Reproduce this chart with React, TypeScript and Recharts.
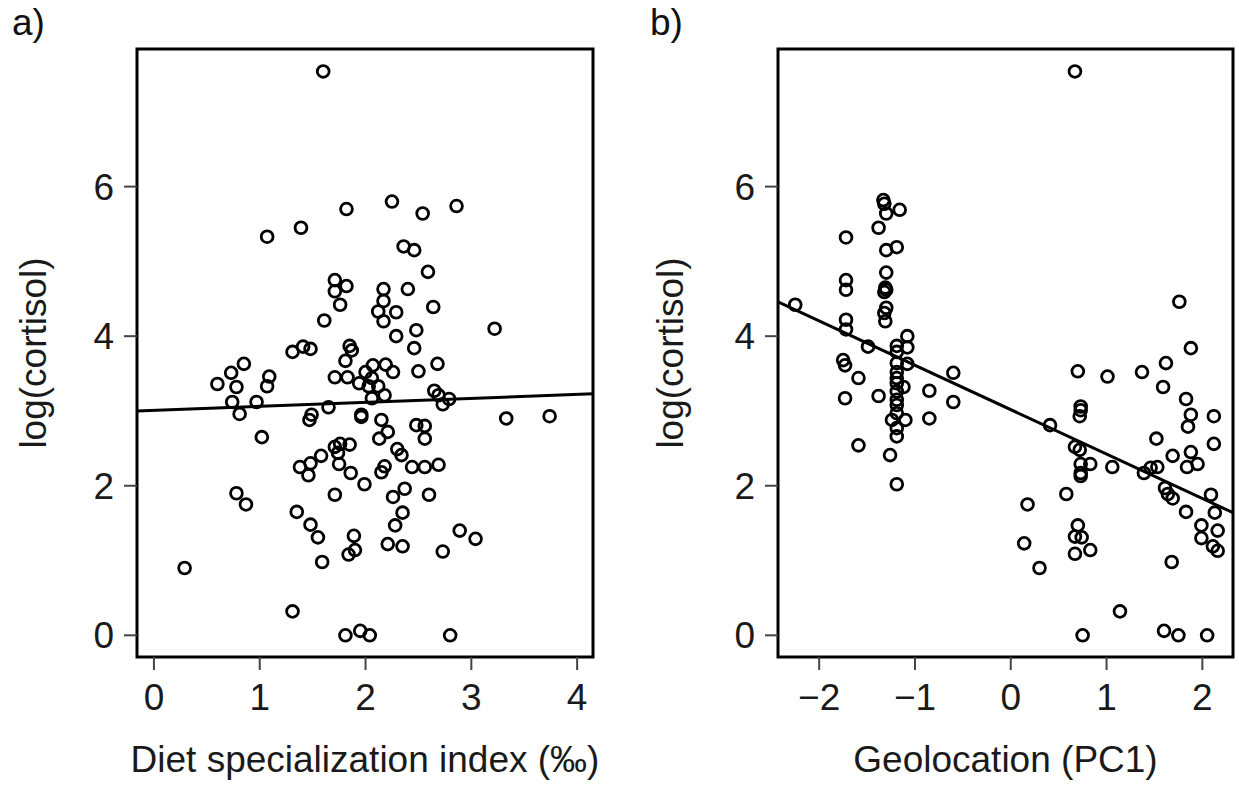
import { ScatterChart, Scatter, XAxis, YAxis, ReferenceArea } from 'recharts'

const FONT = '"Liberation Sans", Arial, Helvetica, sans-serif'

// panel a) diet specialization index vs log(cortisol)
const dietIndex = [
  1.60, 1.07, 1.39, 1.82, 2.25, 2.54, 2.86, 2.36, 2.46, 2.59,
  1.71, 1.82, 1.71, 2.17, 2.40, 2.17, 1.76, 2.64, 2.12, 2.29,
  2.17, 1.61, 2.48, 2.29, 2.46, 1.31, 1.41, 1.48, 1.85, 1.87,
  1.81, 2.68, 2.07, 2.19, 2.26, 2.00, 2.06, 1.94, 2.03, 2.12,
  2.18, 2.06, 2.50, 1.71, 1.83, 1.09, 1.07, 0.97, 1.65, 2.65,
  2.69, 2.73, 2.79, 1.49, 1.47, 1.96, 1.96, 1.02, 2.15, 2.21,
  2.13, 2.48, 2.56, 2.56, 1.71, 1.76, 1.85, 1.74, 1.58, 1.38,
  1.48, 1.46, 1.75, 1.86, 1.99, 1.71, 2.30, 2.34, 2.18, 2.15,
  2.44, 2.56, 2.69, 2.37, 2.26, 2.60, 0.60, 0.73, 0.85, 0.78,
  0.74, 0.81, 0.78, 0.87, 0.29, 1.31, 1.35, 1.48, 1.55, 1.59,
  1.89, 1.90, 1.84, 1.81, 1.95, 2.04, 3.33, 3.74, 2.35, 2.28,
  2.89, 3.04, 2.21, 2.35, 2.73, 2.80, 3.22,
]
const dietCortisol = [
  7.54, 5.33, 5.45, 5.70, 5.80, 5.64, 5.74, 5.20, 5.15, 4.86,
  4.75, 4.67, 4.60, 4.63, 4.63, 4.47, 4.42, 4.39, 4.33, 4.32,
  4.20, 4.21, 4.08, 4.00, 3.84, 3.79, 3.86, 3.83, 3.87, 3.81,
  3.67, 3.63, 3.61, 3.62, 3.52, 3.52, 3.44, 3.37, 3.33, 3.33,
  3.21, 3.17, 3.53, 3.45, 3.45, 3.46, 3.33, 3.12, 3.05, 3.27,
  3.21, 3.09, 3.16, 2.95, 2.88, 2.95, 2.92, 2.65, 2.88, 2.72,
  2.63, 2.81, 2.80, 2.63, 2.52, 2.56, 2.55, 2.44, 2.40, 2.25,
  2.30, 2.14, 2.29, 2.17, 2.02, 1.88, 2.49, 2.41, 2.26, 2.18,
  2.25, 2.25, 2.28, 1.96, 1.85, 1.88, 3.36, 3.51, 3.63, 3.32,
  3.12, 2.96, 1.90, 1.75, 0.90, 0.32, 1.65, 1.48, 1.31, 0.98,
  1.33, 1.14, 1.08, 0.00, 0.06, 0.00, 2.90, 2.93, 1.64, 1.47,
  1.40, 1.29, 1.22, 1.19, 1.12, 0.00, 4.10,
]
const dietFit = [
  { x: -0.16, y: 3.0 },
  { x: 4.15, y: 3.23 },
]
const dietTicks = [0, 1, 2, 3, 4]
const dietDomain = [-0.16, 4.15]

// panel b) geolocation PC1 vs log(cortisol)
const geoPC1 = [
  -2.25, -1.33, -1.32, -1.30, -1.16, -1.38, -1.72, -1.30, -1.19, -1.30,
  -1.72, -1.72, -1.31, -1.32, -1.30, -1.32, -1.31, -1.72, -1.72, -1.49,
  -1.08, -1.19, -1.08, -1.19, -1.75, -1.73, -1.19, -1.08, -1.59, -1.19,
  -1.19, -1.19, -1.12, -1.19, -1.19, -1.19, -1.19, -1.24, -1.10, -1.19,
  -1.19, -0.60, -0.85, -0.60, -0.85, -1.73, -1.38, -1.59, -1.26, -1.19,
  -1.30,
  0.67, 1.76, 1.88, 0.70, 1.01, 1.37, 1.62, 1.59, 1.83,
  0.73, 0.73, 0.72, 1.88, 2.12, 1.85, 2.12, 0.41, 1.52, 0.67,
  0.72, 1.69, 1.88, 1.84, 1.95, 0.73, 0.83, 0.73, 0.73, 1.06,
  1.39, 1.46, 1.53, 1.61, 1.64, 1.69, 2.09, 2.13, 1.83, 0.58,
  0.175, 1.99, 2.16, 1.99, 2.11, 2.16, 0.70, 0.67, 0.74, 0.67,
  0.83, 0.14, 0.30, 1.68, 1.14, 0.75, 1.60, 1.75, 2.05,
]
const geoCortisol = [
  4.42, 5.82, 5.77, 5.64, 5.69, 5.45, 5.32, 5.15, 5.19, 4.85,
  4.75, 4.62, 4.65, 4.59, 4.38, 4.31, 4.20, 4.22, 4.09, 3.86,
  4.00, 3.87, 3.85, 3.79, 3.68, 3.61, 3.64, 3.63, 3.44, 3.52,
  3.44, 3.37, 3.32, 3.26, 3.15, 3.08, 2.97, 2.88, 2.88, 2.77,
  2.66, 3.51, 3.27, 3.12, 2.90, 3.17, 3.20, 2.54, 2.41, 2.02,
  4.62,
  7.54, 4.46, 3.84, 3.53, 3.46, 3.52, 3.64, 3.32, 3.16,
  3.06, 3.01, 2.93, 2.95, 2.93, 2.79, 2.56, 2.81, 2.63, 2.52,
  2.48, 2.40, 2.45, 2.25, 2.29, 2.29, 2.29, 2.17, 2.13, 2.25,
  2.17, 2.24, 2.25, 1.97, 1.89, 1.83, 1.88, 1.64, 1.65, 1.89,
  1.75, 1.47, 1.40, 1.30, 1.19, 1.13, 1.47, 1.32, 1.31, 1.09,
  1.14, 1.23, 0.90, 0.98, 0.32, 0.00, 0.06, 0.00, 0.00,
]
const geoFit = [
  { x: -2.43, y: 4.46 },
  { x: 2.32, y: 1.64 },
]
const geoTicks = [-2, -1, 0, 1, 2]
const geoDomain = [-2.43, 2.32]

const cortisolTicks = [0, 2, 4, 6]
const cortisolDomain = [-0.29, 7.84]

const dietPoints = dietIndex.map((x, i) => ({ x, y: dietCortisol[i] }))
const geoPoints = geoPC1.map((x, i) => ({ x, y: geoCortisol[i] }))

const OpenDot = (props: any) => (
  <circle cx={props.cx} cy={props.cy} r={5.9} fill="none" stroke="#000" strokeWidth={2.8} />
)
const NoDot = () => <g />

const fmt = (v: number) => String(v).replace('-', '\u2212')

const textStyle = { fontSize: 37, fill: '#1a1a1a', fontFamily: FONT }

const Panel = ({ points, fit, xDomain, xTicks, xTitle, width, left, right, yLabelOffset }: any) => (
  <ScatterChart
    width={width}
    height={786}
    margin={{ top: 49, right, bottom: 4, left }}
    style={{ fontFamily: FONT }}
  >
    <XAxis
      type="number"
      dataKey="x"
      domain={xDomain}
      ticks={xTicks}
      allowDataOverflow
      axisLine={false}
      tickLine={{ stroke: '#444', strokeWidth: 2 }}
      tickSize={13}
      tickMargin={14}
      tick={textStyle}
      tickFormatter={fmt}
      height={125}
      label={{ value: xTitle, position: 'insideBottom', offset: 10, ...textStyle }}
    />
    <YAxis
      type="number"
      dataKey="y"
      domain={cortisolDomain}
      ticks={cortisolTicks}
      allowDataOverflow
      axisLine={false}
      tickLine={{ stroke: '#444', strokeWidth: 2 }}
      tickSize={13}
      tickMargin={10}
      tick={textStyle}
      width={110}
      label={{
        value: 'log(cortisol)',
        angle: -90,
        position: 'insideLeft',
        offset: yLabelOffset,
        style: { textAnchor: 'middle' },
        ...textStyle,
      }}
    />
    <ReferenceArea
      x1={xDomain[0]}
      x2={xDomain[1]}
      y1={cortisolDomain[0]}
      y2={cortisolDomain[1]}
      fill="none"
      fillOpacity={0}
      stroke="#000"
      strokeWidth={3}
      ifOverflow="visible"
    />
    <Scatter data={points} shape={OpenDot} isAnimationActive={false} />
    <Scatter
      data={fit}
      shape={NoDot}
      line={{ stroke: '#000', strokeWidth: 3 }}
      isAnimationActive={false}
    />
  </ScatterChart>
)

const tag = { position: 'absolute' as const, top: 4, fontSize: 37, lineHeight: 1, fontFamily: FONT, color: '#111' }

export default function App() {
  return (
    <div style={{ position: 'absolute', left: 0, top: 0, width: 1239, height: 786, background: '#fff' }}>
      <div style={{ position: 'absolute', left: 0, top: 0 }}>
        <Panel
          points={dietPoints}
          fit={dietFit}
          xDomain={dietDomain}
          xTicks={dietTicks}
          xTitle="Diet specialization index (‰)"
          width={620}
          left={27}
          right={27}
          yLabelOffset={6}
        />
      </div>
      <div style={{ position: 'absolute', left: 620, top: 0 }}>
        <Panel
          points={geoPoints}
          fit={geoFit}
          xDomain={geoDomain}
          xTicks={geoTicks}
          xTitle="Geolocation (PC1)"
          width={619}
          left={48}
          right={6}
          yLabelOffset={2}
        />
      </div>
      <div style={{ ...tag, left: 12 }}>a)</div>
      <div style={{ ...tag, left: 650 }}>b)</div>
    </div>
  )
}
